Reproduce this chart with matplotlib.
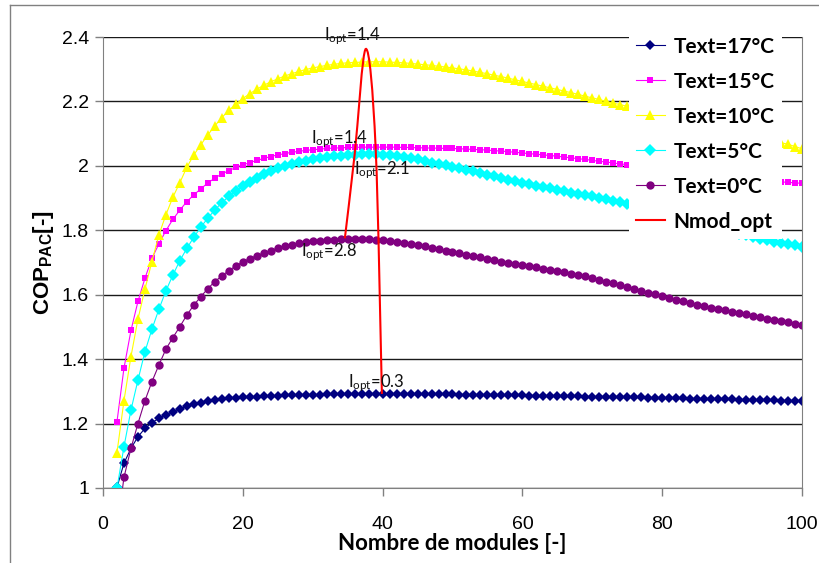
import numpy as np
import matplotlib
matplotlib.use("Agg")
import matplotlib.pyplot as plt
from matplotlib.path import Path
from matplotlib.patches import PathPatch
from matplotlib.lines import Line2D

plt.rcParams['font.family'] = 'Liberation Sans'
plt.rcParams['mathtext.default'] = 'regular'

# nombre de modules (2 .. 100)
n_modules = list(range(2, 101))

cop_17 = [1.002, 1.077, 1.123, 1.159, 1.185, 1.203, 1.216, 1.227, 1.237, 1.246,
          1.254, 1.260, 1.265, 1.269, 1.272, 1.275, 1.278, 1.280, 1.282, 1.283,
          1.284, 1.285, 1.286, 1.287, 1.288, 1.288, 1.289, 1.289, 1.290, 1.290,
          1.291, 1.291, 1.291, 1.292, 1.292, 1.292, 1.292, 1.292, 1.292, 1.292,
          1.292, 1.292, 1.292, 1.292, 1.291, 1.291, 1.291, 1.291, 1.291, 1.290,
          1.290, 1.290, 1.290, 1.289, 1.289, 1.289, 1.288, 1.288, 1.288, 1.287,
          1.287, 1.287, 1.286, 1.286, 1.285, 1.285, 1.285, 1.284, 1.284, 1.283,
          1.283, 1.282, 1.282, 1.282, 1.281, 1.281, 1.280, 1.280, 1.279, 1.279,
          1.278, 1.278, 1.277, 1.277, 1.277, 1.276, 1.276, 1.275, 1.275, 1.274,
          1.274, 1.273, 1.273, 1.272, 1.272, 1.271, 1.271, 1.270, 1.270]

cop_15 = [1.206, 1.372, 1.489, 1.579, 1.651, 1.713, 1.758, 1.799, 1.834, 1.863,
          1.889, 1.910, 1.929, 1.947, 1.962, 1.975, 1.985, 1.995, 2.003, 2.010,
          2.017, 2.023, 2.029, 2.034, 2.038, 2.042, 2.045, 2.048, 2.050, 2.052,
          2.054, 2.055, 2.056, 2.057, 2.057, 2.058, 2.058, 2.058, 2.058, 2.058,
          2.058, 2.057, 2.057, 2.056, 2.056, 2.055, 2.055, 2.054, 2.054, 2.053,
          2.052, 2.051, 2.050, 2.049, 2.047, 2.046, 2.044, 2.042, 2.040, 2.038,
          2.036, 2.034, 2.032, 2.030, 2.027, 2.025, 2.022, 2.020, 2.017, 2.014,
          2.012, 2.009, 2.006, 2.004, 2.001, 1.998, 1.995, 1.993, 1.990, 1.987,
          1.985, 1.982, 1.979, 1.976, 1.974, 1.971, 1.969, 1.966, 1.964, 1.962,
          1.960, 1.958, 1.956, 1.954, 1.952, 1.950, 1.949, 1.947, 1.946]

cop_10 = [1.110, 1.271, 1.408, 1.524, 1.617, 1.703, 1.786, 1.848, 1.903, 1.948,
          1.996, 2.034, 2.066, 2.096, 2.124, 2.150, 2.172, 2.192, 2.209, 2.224,
          2.238, 2.250, 2.261, 2.270, 2.279, 2.286, 2.293, 2.299, 2.304, 2.308,
          2.312, 2.315, 2.318, 2.320, 2.321, 2.322, 2.323, 2.323, 2.323, 2.322,
          2.321, 2.320, 2.318, 2.316, 2.314, 2.312, 2.309, 2.307, 2.304, 2.301,
          2.298, 2.294, 2.290, 2.286, 2.281, 2.277, 2.272, 2.267, 2.262, 2.257,
          2.252, 2.247, 2.242, 2.237, 2.232, 2.227, 2.222, 2.216, 2.211, 2.206,
          2.200, 2.195, 2.190, 2.185, 2.180, 2.175, 2.169, 2.164, 2.159, 2.154,
          2.149, 2.143, 2.138, 2.133, 2.128, 2.123, 2.117, 2.112, 2.107, 2.102,
          2.097, 2.092, 2.087, 2.082, 2.077, 2.072, 2.067, 2.060, 2.053]

cop_5 = [1.000, 1.128, 1.242, 1.335, 1.423, 1.493, 1.555, 1.612, 1.661, 1.706,
         1.744, 1.779, 1.810, 1.838, 1.863, 1.886, 1.905, 1.922, 1.937, 1.951,
         1.963, 1.974, 1.984, 1.992, 1.999, 2.005, 2.011, 2.016, 2.020, 2.024,
         2.027, 2.030, 2.032, 2.034, 2.035, 2.036, 2.036, 2.036, 2.035, 2.034,
         2.031, 2.028, 2.024, 2.020, 2.016, 2.010, 2.006, 2.002, 1.997, 1.993,
         1.988, 1.983, 1.978, 1.972, 1.967, 1.962, 1.957, 1.952, 1.948, 1.943,
         1.939, 1.934, 1.930, 1.925, 1.921, 1.917, 1.913, 1.909, 1.905, 1.900,
         1.897, 1.892, 1.887, 1.882, 1.877, 1.872, 1.866, 1.861, 1.855, 1.850,
         1.844, 1.838, 1.832, 1.826, 1.820, 1.814, 1.808, 1.802, 1.796, 1.790,
         1.784, 1.779, 1.774, 1.769, 1.765, 1.761, 1.757, 1.753, 1.749]

cop_0 = [0.868, 1.033, 1.123, 1.200, 1.271, 1.330, 1.382, 1.431, 1.467, 1.501,
         1.537, 1.568, 1.594, 1.619, 1.641, 1.658, 1.675, 1.689, 1.702, 1.712,
         1.721, 1.729, 1.737, 1.744, 1.750, 1.755, 1.760, 1.763, 1.766, 1.768,
         1.770, 1.771, 1.772, 1.772, 1.773, 1.773, 1.772, 1.771, 1.770, 1.768,
         1.765, 1.762, 1.758, 1.755, 1.751, 1.746, 1.741, 1.736, 1.732, 1.728,
         1.724, 1.720, 1.716, 1.711, 1.707, 1.703, 1.699, 1.695, 1.692, 1.689,
         1.685, 1.681, 1.677, 1.673, 1.669, 1.665, 1.661, 1.657, 1.652, 1.647,
         1.641, 1.635, 1.629, 1.623, 1.617, 1.611, 1.606, 1.601, 1.596, 1.590,
         1.585, 1.579, 1.574, 1.569, 1.565, 1.560, 1.556, 1.551, 1.547, 1.543,
         1.539, 1.535, 1.530, 1.526, 1.522, 1.518, 1.514, 1.510, 1.506]

# points optimaux (Text = 0, 5, 10, 15, 17 °C)
nmod_opt = [34.6, 36.0, 37.6, 39.0, 39.9]
cop_opt = [1.775, 2.035, 2.363, 2.058, 1.292]
i_opt = ['2.8', '2.1', '1.4', '1.4', '0.3']
# position des etiquettes I_opt
lab_x = [32.3, 39.9, 35.7, 33.9, 39.1]
lab_y = [1.733, 1.988, 2.402, 2.083, 1.326]

series = [
    ('Text=17°C', cop_17, '#000080', 'D', 5.5),
    ('Text=15°C', cop_15, '#FF00FF', 's', 5),
    ('Text=10°C', cop_10, '#FFFF00', '^', 7),
    ('Text=5°C', cop_5, '#00FFFF', 'D', 6),
    ('Text=0°C', cop_0, '#800080', 'o', 6),
]


def excel_smooth(xs, ys):
    # courbe lissee type Excel (Bezier cubique, tension 1/6)
    pts = np.column_stack([xs, ys])
    n = len(pts)
    verts = [pts[0]]
    codes = [Path.MOVETO]
    for i in range(n - 1):
        p0 = pts[i - 1] if i > 0 else pts[i]
        p1 = pts[i]
        p2 = pts[i + 1]
        p3 = pts[i + 2] if i + 2 < n else pts[i + 1]
        verts += [p1 + (p2 - p0) / 6, p2 - (p3 - p1) / 6, p2]
        codes += [Path.CURVE4] * 3
    return Path(verts, codes)


fig = plt.figure(figsize=(8.2, 5.63), dpi=100)
ax = fig.add_axes([103 / 820, 1 - 488 / 563, 699 / 820, 451 / 563])

for label, vals, col, mk, ms in series:
    ax.plot(n_modules, vals, color=col, lw=0.8, marker=mk, ms=ms,
            markeredgewidth=0, label=label)

ax.add_patch(PathPatch(excel_smooth(nmod_opt, cop_opt), fill=False,
                       edgecolor='#FF0000', lw=1.5, zorder=5))
ax.plot([], [], color='#FF0000', lw=1.5, label='Nmod_opt')

for xl, yl, txt in zip(lab_x, lab_y, i_opt):
    ax.text(xl, yl, 'I$_{opt}$=' + txt, ha='center', va='center',
            fontsize=12, family='Lato', color='#111111', zorder=6)

ax.set_xlim(0, 100)
ax.set_ylim(1, 2.4)
ax.set_xticks(range(0, 101, 20))
ax.set_yticks(np.arange(1, 2.41, 0.2))
ax.set_yticklabels([f'{v:g}' for v in np.round(np.arange(1, 2.41, 0.2), 1)])
ax.tick_params(direction='out', length=6, width=1, color='#808080',
               labelsize=14, pad=4)
ax.tick_params(axis='x', pad=14)
ax.yaxis.grid(True, color='#1a1a1a', lw=1)
ax.set_axisbelow(True)
for side in ['left', 'right', 'bottom']:
    ax.spines[side].set_color('#808080')
ax.spines['top'].set_visible(False)

ax.set_xlabel('Nombre de modules [-]', fontsize=16, fontweight='bold',
              family='Lato', labelpad=0)
ax.set_ylabel('COP$_{PAC}$[-]', fontsize=16, fontweight='bold', labelpad=4)

leg = ax.legend(loc='upper left', bbox_to_anchor=(0.737, 1.04), ncol=1,
                frameon=True, fancybox=False, framealpha=1, edgecolor='none',
                facecolor='white', numpoints=1, handlelength=1.4,
                handletextpad=0.4, labelspacing=0.72, borderpad=0.35,
                prop={'family': 'Lato', 'weight': 'bold', 'size': 15})
leg.set_zorder(10)

# cadre de la zone graphique
fig.add_artist(Line2D([10 / 820, 10 / 820], [0, 1 - 5 / 563],
                      transform=fig.transFigure, color='#808080', lw=1))
fig.add_artist(Line2D([10 / 820, 1], [1 - 5 / 563, 1 - 5 / 563],
                      transform=fig.transFigure, color='#808080', lw=1))

fig.savefig('out.png', dpi=100)
